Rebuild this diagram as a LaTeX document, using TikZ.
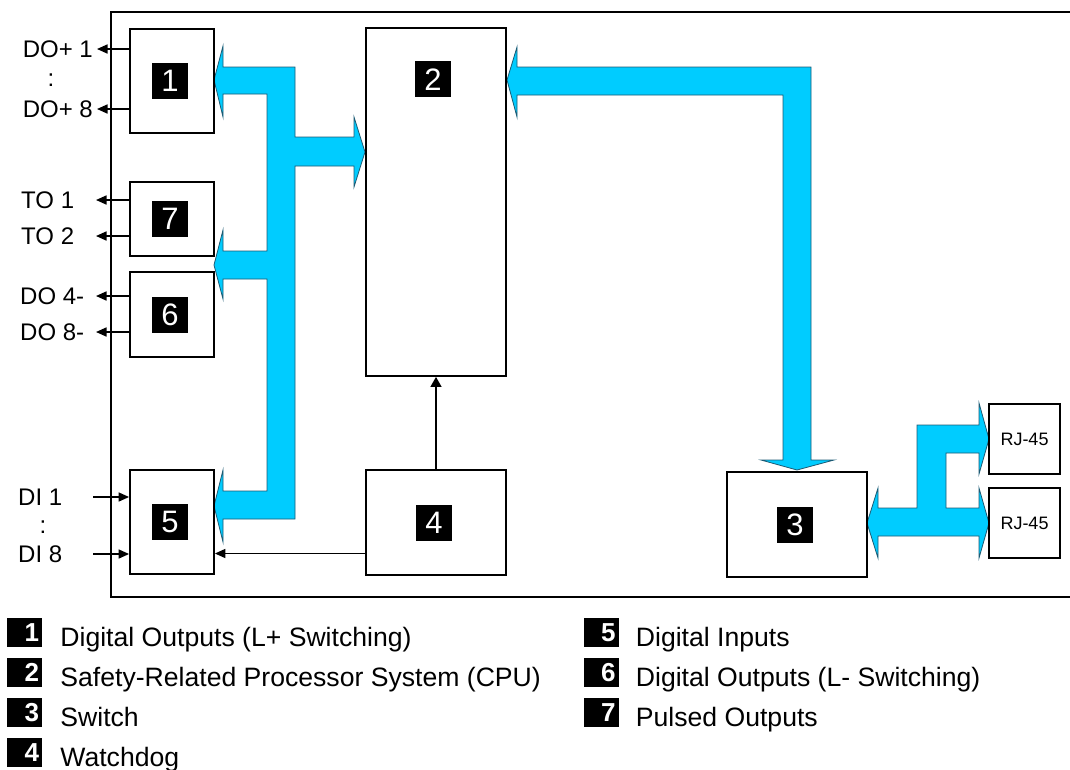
\documentclass[tikz,border=0pt]{standalone}
\usepackage{fontspec}
\setmainfont{Liberation Sans}
\usetikzlibrary{arrows.meta,positioning}
\definecolor{busblue}{RGB}{0,204,255}
\definecolor{busedge}{RGB}{30,90,115}
\newcommand{\keynum}[1]{\makebox[29pt][r]{#1}}
\tikzset{
  unit/.style={draw, line width=1.8pt, inner sep=0},
  tag/.style={fill=black, text=white, minimum size=36pt, inner sep=0, font=\fontsize{31}{31}\selectfont},
  keytag/.style={fill=black, text=white, minimum width=35pt, minimum height=29pt, inner sep=0, font=\fontsize{26}{26}\selectfont\bfseries},
  pin/.style={line width=1.6pt, -{Triangle[length=10.5pt,width=9pt]}},
  bus/.style={fill=busblue, draw=busedge, line width=0.8pt},
  lbl/.style={inner sep=0, font=\fontsize{24}{24}\selectfont},
  key/.style={anchor=base west, inner sep=0, font=\fontsize{26.6}{26.6}\selectfont},
}
\begin{document}
\begin{tikzpicture}[x=1pt,y=-1pt]
\useasboundingbox (0,0) rectangle (1070,769);
%frame
\draw[line width=2.2pt] (1072,12) -- (111,12) -- (111,597) -- (1072,597);

%buses
\draw[bus] (214,80) -- (223,46) -- (223,67) -- (295,67) -- (295,137) -- (354,137) -- (354,117) -- (365,152) -- (354,187) -- (354,166) -- (295,166) -- (295,519) -- (223,519) -- (223,542) -- (214,506) -- (223,470) -- (223,491) -- (267,491) -- (267,279) -- (223,279) -- (223,299) -- (214,265) -- (223,230) -- (223,251) -- (267,251) -- (267,94) -- (223,94) -- (223,117) -- cycle;
\draw[bus] (507,80) -- (517,47) -- (517,67) -- (811,67) -- (811,460) -- (834,460) -- (797,470) -- (761,460) -- (783,460) -- (783,95) -- (517,95) -- (517,117) -- cycle;
\draw[bus] (867,523) -- (878,488) -- (878,508) -- (917,508) -- (917,425) -- (979,425) -- (979,403) -- (989,439) -- (979,474) -- (979,453) -- (946,453) -- (946,508) -- (979,508) -- (979,488) -- (989,523) -- (979,558) -- (979,536) -- (878,536) -- (878,558) -- cycle;

%modules
\node[unit, minimum width=84pt, minimum height=104pt] (box1) at (172,81) {};
\node[unit, minimum width=84pt, minimum height=74pt] (box7) at (172,219) {};
\node[unit, minimum width=84pt, minimum height=85pt] (box6) at (172,314.5) {};
\node[unit, minimum width=84pt, minimum height=104pt] (box5) at (172,522) {};
\node[unit, minimum width=140pt, minimum height=348pt] (box2) at (436,202) {};
\node[unit, minimum width=140pt, minimum height=105pt] (box4) at (436,522.5) {};
\node[unit, minimum width=140pt, minimum height=105pt] (box3) at (797,524.5) {};
\node[unit, minimum width=71pt, minimum height=70pt, font=\fontsize{18}{18}\selectfont] (rj1) at (1024.5,439) {RJ-45};
\node[unit, minimum width=71pt, minimum height=70pt, font=\fontsize{18}{18}\selectfont] (rj2) at (1024.5,523) {RJ-45};

\foreach \n in {1,7,6,5,4,3}{
    \node[tag] (t\n) at ([xshift=-2pt]box\n.center) {\n};
}
\node[tag, below=34pt of box2.north, xshift=-3pt] (t2) {2};

%outputs and inputs
\foreach \n/\y in {1/49, 8/109}{
    \node[lbl, anchor=east, inner xsep=4pt] (dop\n) at (97,\y) {DO+ \n};
    \draw[pin] (box1.west |- dop\n) -- (dop\n.east);
}
\node[lbl] (dopdots) at (51,80) {:};
\foreach \n/\y in {1/200, 2/236}{
    \node[lbl, anchor=west] (to\n) at (21,\y) {TO \n};
    \coordinate (to\n x) at (96,\y);
    \draw[pin] (box7.west |- to\n x) -- (to\n x);
}
\foreach \n/\y in {4/296, 8/332}{
    \node[lbl, anchor=west] (dom\n) at (20,\y) {DO \n-};
    \coordinate (dom\n x) at (96,\y);
    \draw[pin] (box6.west |- dom\n x) -- (dom\n x);
}
\foreach \n/\y in {1/497, 8/554}{
    \node[lbl, anchor=west] (di\n) at (18,\y) {DI \n};
    \coordinate (di\n x) at (93,\y);
    \draw[pin] (di\n x) -- (box5.west |- di\n x);
}
\node[lbl] (didots) at (43,527) {:};

%watchdog
\draw[line width=1.2pt, -{Triangle[length=10pt,width=11pt]}] (box4.north) -- (box2.south);
\draw[pin] ([yshift=-31pt]box4.west) -- ([yshift=-31pt]box4.west -| box5.east);

%legend
\foreach \n/\y/\t in {1/632.5/{Digital Outputs (L+ Switching)}, 2/672.5/{Safety-Related Processor System (CPU)}, 3/712.5/{Switch}, 4/752.5/{Watchdog}}{
    \node[keytag] (k\n) at (24.5,\y) {\keynum{\n}};
    \node[key] (kt\n) at ([xshift=18pt,yshift=1pt]k\n.south east) {\t};
}
\foreach \n/\y/\t in {5/632.5/{Digital Inputs}, 6/672.5/{Digital Outputs (L- Switching)}, 7/712.5/{Pulsed Outputs}}{
    \node[keytag] (k\n) at (601,\y) {\keynum{\n}};
    \node[key] (kt\n) at ([xshift=17pt,yshift=1pt]k\n.south east) {\t};
}
\end{tikzpicture}
\end{document}
